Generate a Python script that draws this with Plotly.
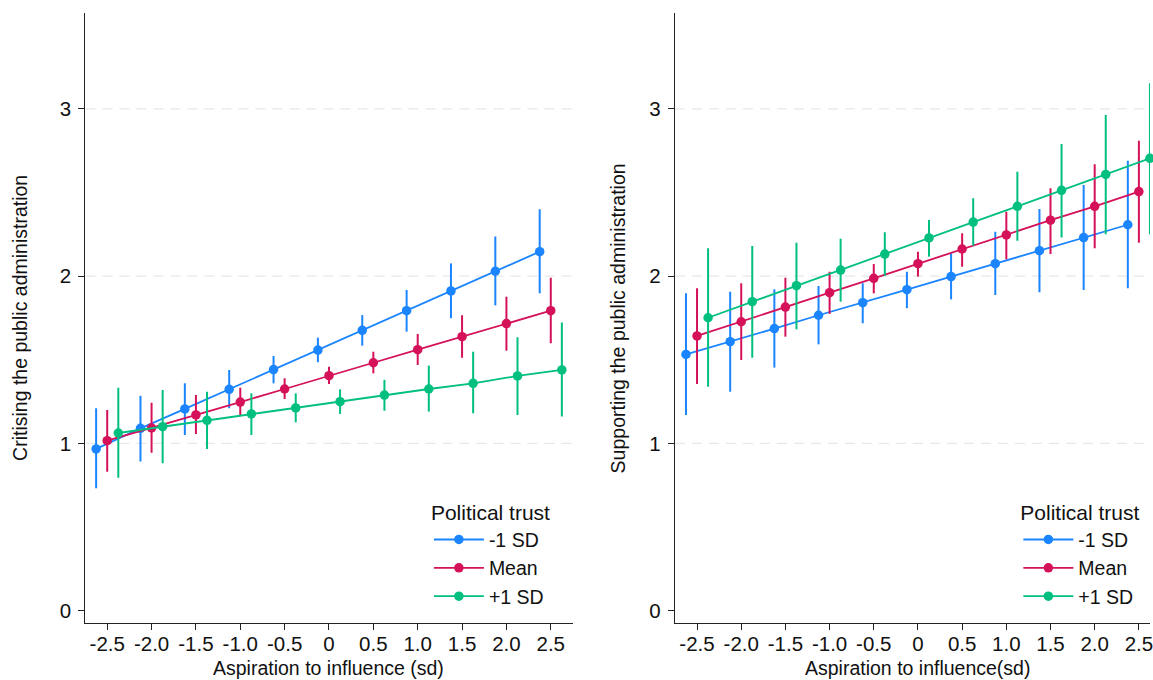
import plotly.graph_objects as go

# ---------------- data ----------------
x_low = [-2.625, -2.125, -1.625, -1.125, -0.625, -0.125, 0.375, 0.875, 1.375, 1.875, 2.375]
x_mean = [-2.5, -2.0, -1.5, -1.0, -0.5, 0.0, 0.5, 1.0, 1.5, 2.0, 2.5]
x_high = [-2.375, -1.875, -1.375, -0.875, -0.375, 0.125, 0.625, 1.125, 1.625, 2.125, 2.625]

series_names = ["-1 SD", "Mean", "+1 SD"]
legend_title = "Political trust"

# Left panel: Critising the public administration
crit_low = [0.967, 1.090, 1.206, 1.323, 1.441, 1.558, 1.676, 1.793, 1.911, 2.029, 2.146]
crit_low_lo = [0.732, 0.891, 1.050, 1.210, 1.359, 1.485, 1.584, 1.668, 1.748, 1.825, 1.897]
crit_low_hi = [1.210, 1.285, 1.359, 1.438, 1.522, 1.632, 1.767, 1.917, 2.076, 2.236, 2.399]

crit_mean = [1.016, 1.092, 1.170, 1.247, 1.325, 1.405, 1.482, 1.560, 1.638, 1.716, 1.793]
crit_mean_lo = [0.831, 0.944, 1.056, 1.170, 1.265, 1.355, 1.419, 1.469, 1.512, 1.554, 1.598]
crit_mean_hi = [1.200, 1.243, 1.289, 1.333, 1.389, 1.458, 1.548, 1.654, 1.766, 1.877, 1.990]

crit_high = [1.062, 1.100, 1.138, 1.176, 1.212, 1.249, 1.289, 1.325, 1.359, 1.403, 1.439]
crit_high_lo = [0.795, 0.881, 0.967, 1.050, 1.126, 1.176, 1.195, 1.190, 1.180, 1.170, 1.160]
crit_high_hi = [1.333, 1.319, 1.309, 1.299, 1.299, 1.323, 1.380, 1.465, 1.548, 1.634, 1.722]

# Right panel: Supporting the public administration
supp_low = [1.532, 1.608, 1.686, 1.766, 1.841, 1.919, 1.997, 2.074, 2.152, 2.230, 2.307]
supp_low_lo = [1.170, 1.309, 1.453, 1.592, 1.718, 1.808, 1.861, 1.887, 1.903, 1.917, 1.927]
supp_low_hi = [1.897, 1.907, 1.921, 1.941, 1.957, 2.026, 2.136, 2.265, 2.401, 2.545, 2.690]

supp_mean = [1.642, 1.727, 1.815, 1.901, 1.987, 2.074, 2.162, 2.246, 2.334, 2.417, 2.505]
supp_mean_lo = [1.355, 1.499, 1.638, 1.774, 1.897, 1.997, 2.056, 2.100, 2.132, 2.166, 2.200]
supp_mean_hi = [1.927, 1.957, 1.990, 2.026, 2.072, 2.146, 2.256, 2.385, 2.525, 2.668, 2.809]

supp_high = [1.751, 1.847, 1.943, 2.036, 2.132, 2.228, 2.323, 2.417, 2.513, 2.608, 2.704]
supp_high_lo = [1.339, 1.512, 1.682, 1.847, 2.001, 2.116, 2.182, 2.212, 2.230, 2.250, 2.250]
supp_high_hi = [2.166, 2.180, 2.200, 2.224, 2.262, 2.335, 2.465, 2.624, 2.790, 2.963, 3.153]

x_tickvals = [-2.5, -2.0, -1.5, -1.0, -0.5, 0.0, 0.5, 1.0, 1.5, 2.0, 2.5]
x_ticktext = ["-2.5", "-2.0", "-1.5", "-1.0", "-0.5", "0", "0.5", "1.0", "1.5", "2.0", "2.5"]
y_tickvals = [0, 1, 2, 3]
y_ticktext = ["0", "1", "2", "3"]
grid_vals = [1, 2, 3]

left_xtitle = "Aspiration to influence (sd)"
right_xtitle = "Aspiration to influence(sd)"
left_ytitle = "Critising the public administration"
right_ytitle = "Supporting the public administration"

# ---------------- style ----------------
W, H = 1153, 680
colors = ["#1A85FF", "#D41159", "#00BF7F"]
FONT = "Liberation Sans, Arial, Helvetica, sans-serif"
TICK_FS = 20.5
TITLE_FS = 19.5
LEG_FS = 19.5
LEG_TITLE_FS = 21
AX = "#222222"

def px(x):  # screen x (px) -> paper fraction
    return x / W

def py(y):  # screen y (px) -> paper fraction
    return 1 - y / H

# geometry in screen px
L1, R1 = 85.7, 574.0
L2, R2 = 676.7, W
TOP, BOT = 13.3, 622.7
X2_RANGE = [-2.75, -2.75 + (R2 - L2) / 88.6]

fig = go.Figure()

panels = [
    ("x", "y", "legend",
     [(x_low, crit_low, crit_low_lo, crit_low_hi),
      (x_mean, crit_mean, crit_mean_lo, crit_mean_hi),
      (x_high, crit_high, crit_high_lo, crit_high_hi)]),
    ("x2", "y2", "legend2",
     [(x_low, supp_low, supp_low_lo, supp_low_hi),
      (x_mean, supp_mean, supp_mean_lo, supp_mean_hi),
      (x_high, supp_high, supp_high_lo, supp_high_hi)]),
]

for xa, ya, leg, sers in panels:
    for i, (xs, ys, lo, hi) in enumerate(sers):
        fig.add_trace(go.Scatter(
            x=xs, y=ys, xaxis=xa, yaxis=ya, legend=leg,
            name=series_names[i], mode="lines+markers",
            line=dict(color=colors[i], width=1.8),
            marker=dict(color=colors[i], size=9.5),
            error_y=dict(type="data", symmetric=False,
                         array=[h - v for h, v in zip(hi, ys)],
                         arrayminus=[v - l for v, l in zip(ys, lo)],
                         color=colors[i], thickness=2, width=0),
            cliponaxis=False,
        ))

def xaxis(dom, rng):
    return dict(domain=dom, range=rng, showline=True, linecolor=AX, linewidth=1.2,
                ticks="outside", ticklen=6, tickwidth=1.2, tickcolor=AX,
                tickvals=x_tickvals, ticktext=x_ticktext, showgrid=False, zeroline=False,
                tickfont=dict(family=FONT, size=TICK_FS, color="#111"), ticklabelstandoff=-3,
                ticklabeloverflow="allow", fixedrange=True)

def yaxis(dom):
    return dict(domain=dom, range=[-0.072, 3.571], showline=True, linecolor=AX, linewidth=1.2,
                ticks="outside", ticklen=6, tickwidth=1.2, tickcolor=AX,
                tickvals=y_tickvals, ticktext=y_ticktext, showgrid=False, zeroline=False,
                tickfont=dict(family=FONT, size=TICK_FS, color="#111"), ticklabelstandoff=3,
                fixedrange=True)

ydom = [py(BOT), py(TOP)]
fig.update_layout(
    xaxis=xaxis([px(L1), px(R1)], [-2.745, 2.745]),
    yaxis=yaxis(ydom),
    xaxis2=xaxis([px(L2), min(1.0, px(R2))], X2_RANGE),
    yaxis2=yaxis(ydom),
)
fig.layout.yaxis2.anchor = "x2"
fig.layout.xaxis2.anchor = "y2"

shapes = []
for xr, yr in [("x domain", "y"), ("x2 domain", "y2")]:
    for g in grid_vals:
        shapes.append(dict(type="line", xref=xr, yref=yr, x0=0, x1=1, y0=g, y1=g,
                           line=dict(color="#e8e8e8", width=1.3, dash="10px,7px"),
                           layer="below"))

ann_font = dict(family=FONT, size=TITLE_FS, color="#111")
yc = py((TOP + BOT) / 2)
x2_zero = L2 + (0 - X2_RANGE[0]) * (R2 - L2) / (X2_RANGE[1] - X2_RANGE[0])
annotations = [
    dict(text=left_xtitle, xref="paper", yref="paper", x=px((L1 + R1) / 2), y=py(668),
         xanchor="center", yanchor="middle", showarrow=False, font=ann_font),
    dict(text=right_xtitle, xref="paper", yref="paper", x=px(x2_zero), y=py(668),
         xanchor="center", yanchor="middle", showarrow=False, font=ann_font),
    dict(text=left_ytitle, xref="paper", yref="paper", x=px(20), y=yc, textangle=-90,
         xanchor="center", yanchor="middle", showarrow=False, font=ann_font),
    dict(text=right_ytitle, xref="paper", yref="paper", x=px(620), y=yc, textangle=-90,
         xanchor="center", yanchor="middle", showarrow=False, font=ann_font),
]

legend_common = dict(
    xanchor="left", yanchor="top", bgcolor="rgba(0,0,0,0)", borderwidth=0,
    font=dict(family=FONT, size=LEG_FS, color="#111"),
    title=dict(text=legend_title, font=dict(family=FONT, size=LEG_TITLE_FS, color="#111")),
    tracegroupgap=0, itemwidth=50,
)

fig.update_layout(
    width=W, height=H, autosize=False,
    margin=dict(l=0, r=0, t=0, b=0),
    paper_bgcolor="white", plot_bgcolor="white",
    font=dict(family=FONT, size=TICK_FS, color="#111"),
    shapes=shapes, annotations=annotations,
    showlegend=True, hovermode=False,
    legend=dict(x=px(430), y=py(493), **legend_common),
    legend2=dict(x=px(430 + 591), y=py(493), **legend_common),
)

# remove the browser's default page margin so the 1153x680 figure fills the window exactly
fig.write_html(
    "out.html",
    config={"displayModeBar": False, "staticPlot": False},
    post_script=("document.body.style.margin='0';"
                 "document.body.style.overflow='hidden';"
                 "document.documentElement.style.overflow='hidden';"),
)
